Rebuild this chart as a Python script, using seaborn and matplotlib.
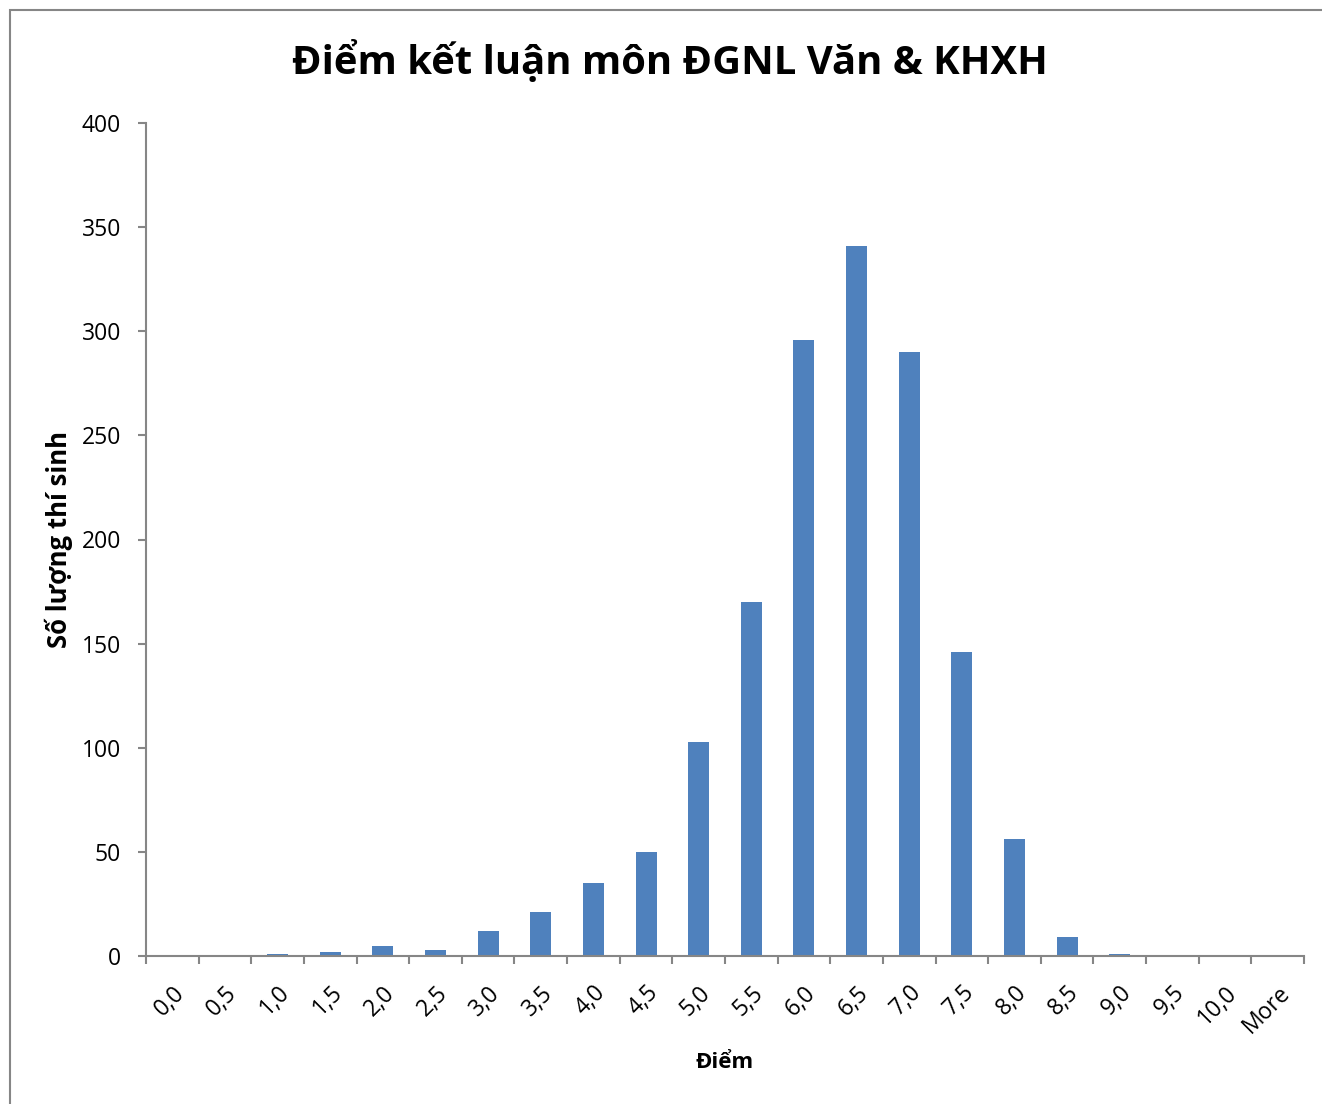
import numpy as np
import pandas as pd
import seaborn as sns
import matplotlib.pyplot as plt
from matplotlib.patches import Rectangle

# so lieu doc tu bieu do
bins = ["0,0", "0,5", "1,0", "1,5", "2,0", "2,5", "3,0", "3,5", "4,0", "4,5", "5,0",
        "5,5", "6,0", "6,5", "7,0", "7,5", "8,0", "8,5", "9,0", "9,5", "10,0", "More"]
counts = [0, 0, 1, 2, 5, 3, 12, 21, 35, 50, 103,
          170, 296, 341, 290, 146, 56, 9, 1, 0, 0, 0]
y_ticks = [0, 50, 100, 150, 200, 250, 300, 350, 400]

df = pd.DataFrame({"diem": bins, "so_luong": counts})

sns.set_style("white")
plt.rcParams["font.family"] = ["Open Sans", "DejaVu Sans"]
plt.rcParams["text.color"] = "black"
plt.rcParams["xtick.color"] = "black"
plt.rcParams["ytick.color"] = "black"
plt.rcParams["axes.labelcolor"] = "black"

fig = plt.figure(figsize=(13.22, 11.04), dpi=100)
ax = fig.add_axes([146 / 1322, 148 / 1104, 1158 / 1322, 833 / 1104])

sns.barplot(data=df, x="diem", y="so_luong", color="#4F81BD", saturation=1,
            width=0.4, linewidth=0, ax=ax)

gray = "#868686"
ax.set_xlim(-0.5, len(bins) - 0.5)
ax.set_ylim(0, 400)
ax.set_yticks(y_ticks)
ax.set_yticklabels([str(v) for v in y_ticks], fontsize=16.5)

# nhan o giua cot, vach chia o ranh gioi
ax.set_xticks(np.arange(len(bins)))
ax.set_xticklabels(bins, rotation=45, ha="right", rotation_mode="anchor", fontsize=16.5)
ax.set_xticks(np.arange(len(bins) + 1) - 0.5, minor=True)
ax.tick_params(axis="x", which="major", length=0, pad=18)
ax.tick_params(axis="x", which="minor", length=6, width=1.5, color=gray, direction="out")
ax.tick_params(axis="y", length=6, width=1.5, color=gray, direction="out", pad=12)
ax.xaxis.set_ticks_position("bottom")
ax.yaxis.set_ticks_position("left")

for s in ["top", "right"]:
    ax.spines[s].set_visible(False)
for s in ["left", "bottom"]:
    ax.spines[s].set_color(gray)
    ax.spines[s].set_linewidth(1.5)

ax.set_xlabel("Điểm", fontsize=16, fontweight="bold", labelpad=10)
ax.set_ylabel("Số lượng thí sinh", fontsize=18.5, fontweight="bold", labelpad=6)

fig.text(670 / 1322, 1 - 62 / 1104, "Điểm kết luận môn ĐGNL Văn & KHXH",
         ha="center", va="center", fontsize=28.8, fontweight="bold")

# khung bieu do
fig.patches.append(Rectangle((10 / 1322, -0.1), 1.2, 1 - 10 / 1104 + 0.1,
                             transform=fig.transFigure, fill=False,
                             edgecolor=gray, linewidth=1.5))

fig.savefig("out.png", dpi=100)
